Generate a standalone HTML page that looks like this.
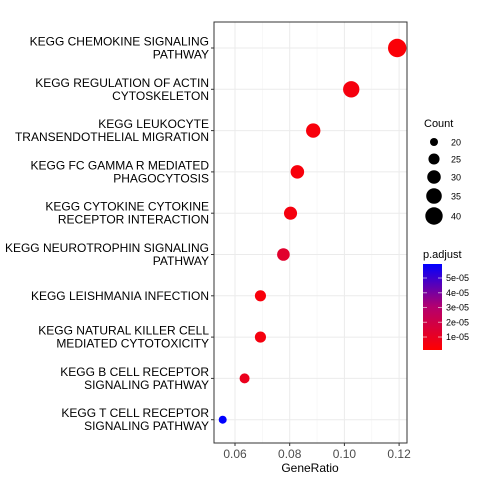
<!DOCTYPE html>
<html><head><meta charset="utf-8"><style>
html,body{margin:0;padding:0;background:#fff;}
svg{display:block;font-family:"Liberation Sans",Arial,sans-serif;}
</style></head><body>
<svg id="chart" width="480" height="480" viewBox="0 0 480 480">
<defs><linearGradient id="pg" x1="0" y1="1" x2="0" y2="0">
<stop offset="0" stop-color="#ff0000"/><stop offset="0.5" stop-color="#b4006e"/><stop offset="1" stop-color="#0000ff"/></linearGradient></defs>
<g id="grid"></g><g id="marks"></g><g id="labels"></g>
<rect x="214" y="22" width="193" height="421" fill="none" stroke="#333" stroke-width="1"/>
<text x="310" y="472" font-size="12" text-anchor="middle" fill="#000">GeneRatio</text>
<g>
<text x="424" y="127" font-size="11">Count</text>
<g id="sizeLeg"></g>
</g>
<g>
<text x="423" y="258" font-size="11">p.adjust</text>
<rect x="423" y="264" width="19" height="86" fill="url(#pg)"/>
<g id="colLeg"></g>
</g>
</svg>
<script>
const categories=[["KEGG CHEMOKINE SIGNALING","PATHWAY"],["KEGG REGULATION OF ACTIN","CYTOSKELETON"],["KEGG LEUKOCYTE","TRANSENDOTHELIAL MIGRATION"],["KEGG FC GAMMA R MEDIATED","PHAGOCYTOSIS"],["KEGG CYTOKINE CYTOKINE","RECEPTOR INTERACTION"],["KEGG NEUROTROPHIN SIGNALING","PATHWAY"],["KEGG LEISHMANIA INFECTION"],["KEGG NATURAL KILLER CELL","MEDIATED CYTOTOXICITY"],["KEGG B CELL RECEPTOR","SIGNALING PATHWAY"],["KEGG T CELL RECEPTOR","SIGNALING PATHWAY"]];
const geneRatio=[0.1193,0.1025,0.0886,0.0828,0.0803,0.0777,0.0693,0.0693,0.0635,0.0555];
const counts=[43,37,32,30,29,28,25,25,23,20];
const padj=[0.3e-5,0.5e-5,0.4e-5,0.4e-5,0.5e-5,1.3e-5,0.4e-5,0.5e-5,0.9e-5,5.95e-5];
const xTicks=[0.06,0.08,0.10,0.12];
const xTickLabels=["0.06","0.08","0.10","0.12"];
const sizeBreaks=[20,25,30,35,40];
const colBreaks=[1e-5,2e-5,3e-5,4e-5,5e-5];
const colLabels=["1e-05","2e-05","3e-05","4e-05","5e-05"];

const NS="http://www.w3.org/2000/svg";
function el(t,a,p){const e=document.createElementNS(NS,t);for(const k in a)e.setAttribute(k,a[k]);p.appendChild(e);return e;}
const x=v=>235+(v-0.06)/0.02*54.7;
const y=i=>48+i*41.3;
const r=c=>Math.sqrt(16+2.98*(c-20));
const pMin=0.12e-5,pMax=5.95e-5;
function col(p){let t=Math.max(0,Math.min(1,(p-pMin)/(pMax-pMin)));
 let R,B; if(t<0.5){const u=t/0.5;R=255+(180-255)*u;B=110*u;}else{const u=(t-0.5)/0.5;R=180*(1-u);B=110+(255-110)*u;}
 return `rgb(${Math.round(R)},0,${Math.round(B)})`;}
const cy=p=>350-(p-pMin)/(pMax-pMin)*86;
const grid=document.getElementById('grid'),marks=document.getElementById('marks'),labels=document.getElementById('labels');
xTicks.forEach((t,i)=>{
 const gl=el('line',{x1:x(t),x2:x(t),y1:22,y2:443,stroke:'#ebebeb','stroke-width':1},grid);
 
 
 if(i<xTicks.length-1){const m=el('line',{x1:x(t+0.01),x2:x(t+0.01),y1:22,y2:443,stroke:'#f4f4f4','stroke-width':0.6},grid);
 
 }
 const tk=el('line',{x1:x(t),x2:x(t),y1:443,y2:446,stroke:'#333'},labels);
 
 
 const tl=el('text',{x:x(t),y:458,'font-size':12,'text-anchor':'middle',fill:'#4d4d4d'},labels);tl.textContent=xTickLabels[i];
 
 
});
categories.forEach((c,i)=>{
 const gl=el('line',{x1:214,x2:407,y1:y(i),y2:y(i),stroke:'#ebebeb'},grid);
 
 
 const tk=el('line',{x1:211,x2:214,y1:y(i),y2:y(i),stroke:'#333'},labels);
 
 
 const t=el('text',{'font-size':12,'text-anchor':'end',fill:'#000'},labels);
 
 
 const y0=y(i)+4-(c.length-1)*6.5;
 c.forEach((line,j)=>{const s=el('tspan',{x:209,y:y0+j*13},t);s.textContent=line;});
 const d=el('circle',{cx:x(geneRatio[i]),cy:y(i),r:r(counts[i]),fill:col(padj[i])},marks);
 
 
});
const sl=document.getElementById('sizeLeg');
const sy=[142,159,177,196,216];
sizeBreaks.forEach((b,i)=>{
 const d=el('circle',{cx:434,cy:sy[i],r:r(b),fill:'#000'},sl);
 
 
 const t=el('text',{x:451,y:sy[i]+3.5,'font-size':9,fill:'#000'},sl);t.textContent=b;
 
 
});
const cl=document.getElementById('colLeg');
colBreaks.forEach((b,i)=>{
 const yy=cy(b);
 const t1=el('line',{x1:423,x2:427,y1:yy,y2:yy,stroke:'#fff','stroke-opacity':0.6},cl);
 
 
 const t2=el('line',{x1:438,x2:442,y1:yy,y2:yy,stroke:'#fff','stroke-opacity':0.6},cl);
 
 
 const t=el('text',{x:446,y:yy+3,'font-size':9,fill:'#000'},cl);t.textContent=colLabels[i];
 
 
});
</script>
</body></html>
